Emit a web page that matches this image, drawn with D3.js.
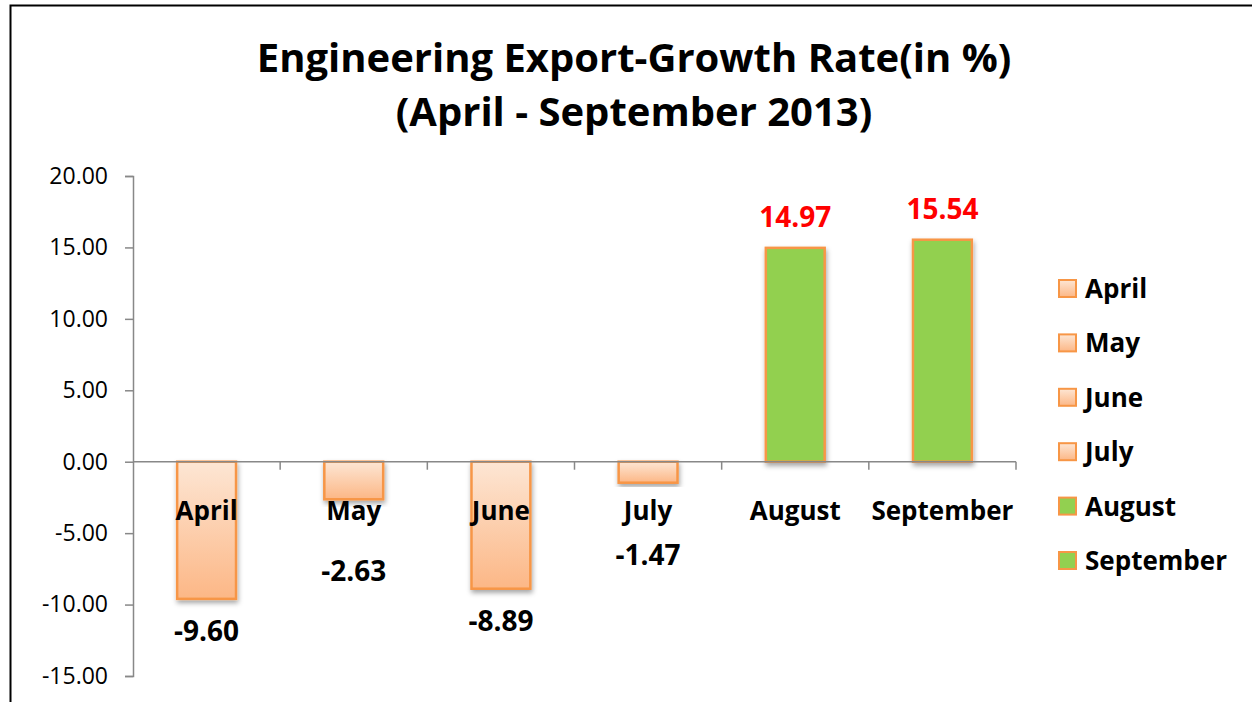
<!DOCTYPE html>
<html>
<head>
<meta charset="utf-8">
<script src="https://cdn.jsdelivr.net/npm/d3@7"></script>
<style>
  body { margin: 0; background: #fff; }
  svg { display: block; font-family: "Open Sans", Lato, sans-serif; }
</style>
</head>
<body>
<div id="chart"></div>
<script>
// chart data
const months = ["April", "May", "June", "July", "August", "September"];
const growth = [-9.60, -2.63, -8.89, -1.47, 14.97, 15.54];
const yTicks = [20, 15, 10, 5, 0, -5, -10, -15];
const titleLines = ["Engineering Export-Growth Rate(in %)", "(April - September 2013)"];

const width = 1252, height = 702;
const margin = {top: 176, left: 133, right: 236, bottom: 26};

const svg = d3.select("#chart").append("svg")
    .attr("width", width)
    .attr("height", height);

// gradients + shadow
const defs = svg.append("defs");
const grad = defs.append("linearGradient")
    .attr("id", "peach")
    .attr("x1", 0).attr("y1", 0).attr("x2", 0).attr("y2", 1);
grad.append("stop").attr("offset", "0%").attr("stop-color", "#fde6d4");
grad.append("stop").attr("offset", "100%").attr("stop-color", "#fcb786");

const shadow = defs.append("filter").attr("id", "shadow")
    .attr("x", "-20%").attr("y", "-20%").attr("width", "140%").attr("height", "140%");
shadow.append("feDropShadow")
    .attr("dx", 1).attr("dy", 3).attr("stdDeviation", 2.5)
    .attr("flood-color", "#000").attr("flood-opacity", 0.35);

// frame
svg.append("path")
    .attr("d", `M10.5,${height} V5.5 H${width}`)
    .attr("fill", "none")
    .attr("stroke", "#000")
    .attr("stroke-width", 2);

// title
svg.append("text")
    .attr("text-anchor", "middle")
    .attr("font-weight", "bold")
    .attr("font-size", 40)
    .selectAll("tspan")
    .data(titleLines)
    .join("tspan")
    .attr("x", 634)
    .attr("y", (d, i) => 72 + i * 54)
    .text(d => d);

const x = d3.scaleBand()
    .domain(months)
    .range([margin.left, width - margin.right])
    .paddingInner(0.6)
    .paddingOuter(0.3);

const y = d3.scaleLinear()
    .domain([-15, 20])
    .range([height - margin.bottom, margin.top]);

const fmt = d => d3.format(".2f")(d).replace("−", "-");

// y axis
const yAxis = svg.append("g")
    .attr("transform", `translate(${margin.left},0)`)
    .call(d3.axisLeft(y).tickValues(yTicks).tickSize(8).tickPadding(17).tickFormat(fmt));
yAxis.select(".domain").attr("stroke", "#888").attr("stroke-width", 1.5);
yAxis.selectAll(".tick line").attr("stroke", "#888").attr("stroke-width", 1.5);
yAxis.selectAll(".tick text")
    .attr("font-family", "'Open Sans', Lato, sans-serif")
    .attr("font-size", 23)
    .attr("fill", "#000");

// bars
svg.append("g").selectAll("rect")
    .data(growth)
    .join("rect")
    .attr("x", (d, i) => x(months[i]))
    .attr("y", d => y(Math.max(0, d)))
    .attr("width", x.bandwidth())
    .attr("height", d => Math.abs(y(d) - y(0)))
    .attr("fill", d => d < 0 ? "url(#peach)" : "#92d050")
    .attr("stroke", "#f79646")
    .attr("stroke-width", 2.5)
    .attr("filter", "url(#shadow)");

// x axis on zero line
const xLine = svg.append("g");
const step = x.step();
const x0 = margin.left, x1 = width - margin.right;
xLine.append("line")
    .attr("x1", x0).attr("x2", x1)
    .attr("y1", y(0)).attr("y2", y(0))
    .attr("stroke", "#888").attr("stroke-width", 1.5);
xLine.selectAll("line.tick")
    .data(d3.range(1, months.length + 1))
    .join("line")
    .attr("class", "tick")
    .attr("x1", i => x0 + i * step).attr("x2", i => x0 + i * step)
    .attr("y1", y(0)).attr("y2", y(0) + 8)
    .attr("stroke", "#888").attr("stroke-width", 1.5);

// category labels
svg.append("g").selectAll("text")
    .data(months)
    .join("text")
    .attr("x", d => x(d) + x.bandwidth() / 2)
    .attr("y", y(0) + 58)
    .attr("text-anchor", "middle")
    .attr("font-weight", "bold")
    .attr("font-size", 26)
    .text(d => d);

// value labels
svg.append("g").selectAll("text")
    .data(growth)
    .join("text")
    .attr("x", (d, i) => x(months[i]) + x.bandwidth() / 2)
    .attr("y", d => {
      if (d >= 0) return y(d) - 21;
      return y(d) < y(0) + 60 ? y(d) + 82 : y(d) + 42;
    })
    .attr("text-anchor", "middle")
    .attr("font-weight", "bold")
    .attr("font-size", 28)
    .attr("fill", d => d >= 0 ? "#ff0000" : "#000")
    .text(fmt);

// legend
const legend = svg.append("g").selectAll("g")
    .data(months)
    .join("g")
    .attr("transform", (d, i) => `translate(1059,${289 + i * 54.4})`);
legend.append("rect")
    .attr("x", 0).attr("y", -9)
    .attr("width", 17).attr("height", 17)
    .attr("fill", (d, i) => growth[i] < 0 ? "url(#peach)" : "#92d050")
    .attr("stroke", "#f79646")
    .attr("stroke-width", 2);
legend.append("text")
    .attr("x", 26)
    .attr("y", 9)
    .attr("font-weight", "bold")
    .attr("font-size", 26)
    .text(d => d);
</script>
</body>
</html>
